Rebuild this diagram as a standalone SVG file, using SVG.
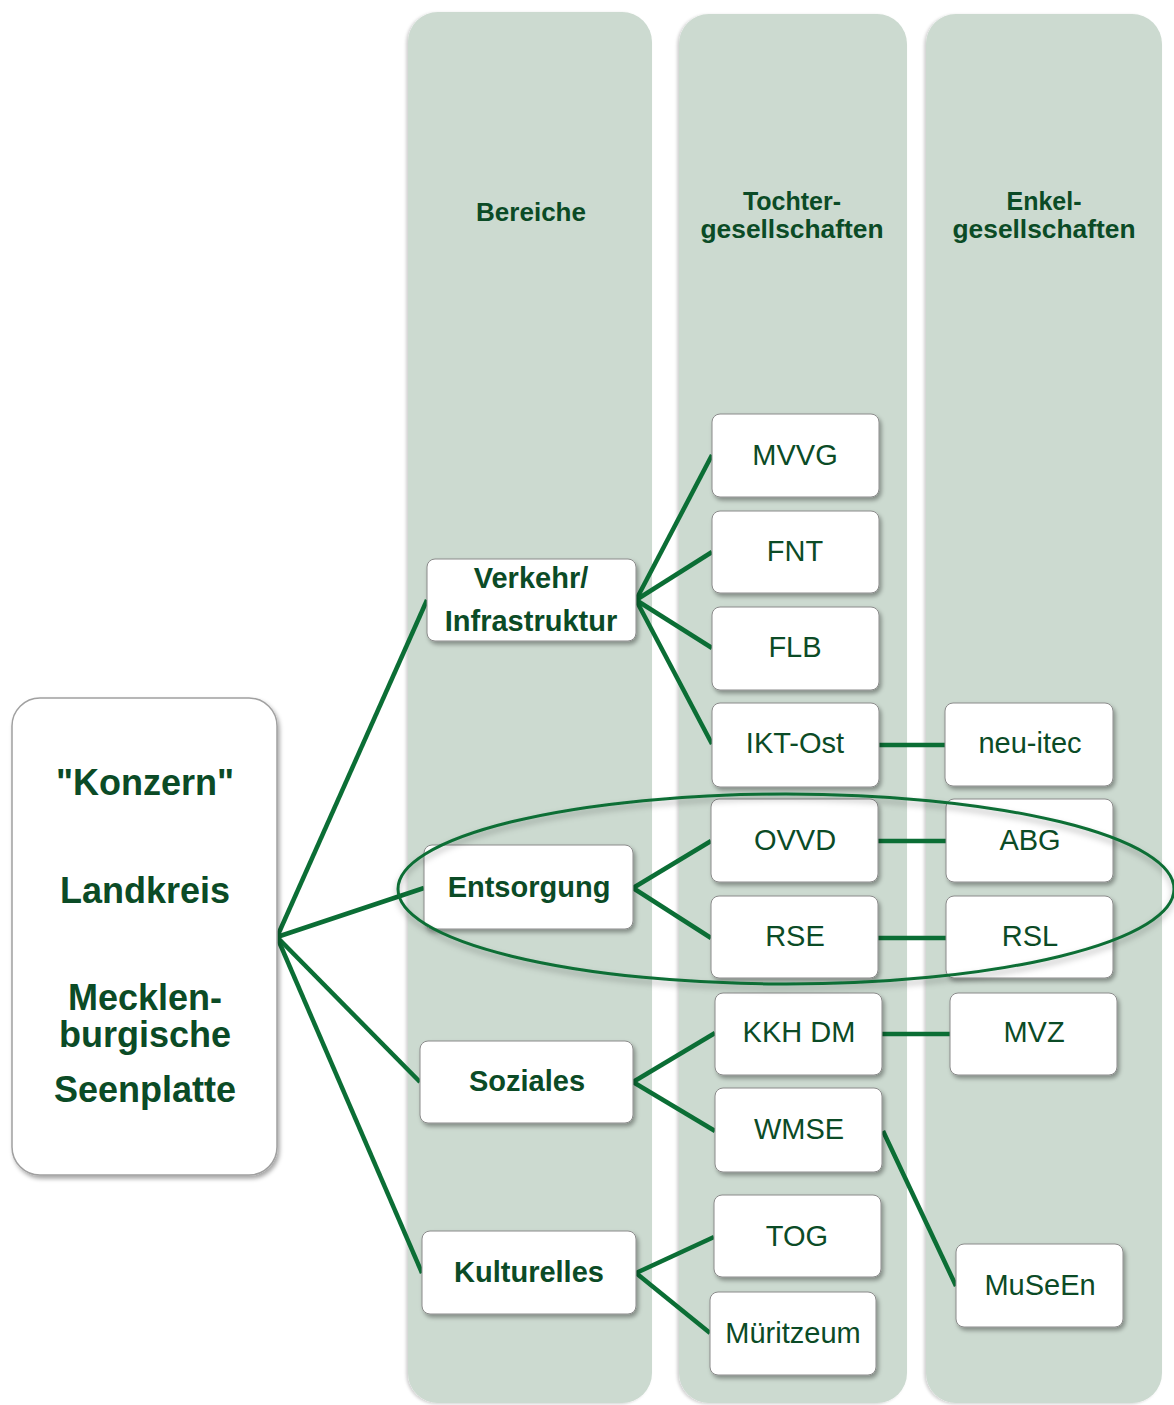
<svg xmlns="http://www.w3.org/2000/svg" width="1174" height="1405" viewBox="0 0 1174 1405">
<defs>
<filter id="sh" x="-10%" y="-10%" width="130%" height="140%">
<feDropShadow dx="2" dy="3" stdDeviation="2" flood-color="#000" flood-opacity="0.35"/>
</filter>
<filter id="csh" x="-5%" y="-2%" width="110%" height="104%">
<feDropShadow dx="-2" dy="1" stdDeviation="1.5" flood-color="#000" flood-opacity="0.18"/>
</filter>
<filter id="esh" x="-5%" y="-10%" width="110%" height="130%">
<feDropShadow dx="0" dy="4" stdDeviation="3" flood-color="#000" flood-opacity="0.3"/>
</filter>
</defs>
<style>
.col{fill:#ccdad0;filter:url(#csh)}
.box{fill:#fff;stroke:#8a8a8a;stroke-width:1;filter:url(#sh)}
.big{fill:#fff;stroke:#a0a0a0;stroke-width:1.5;filter:url(#sh)}
.hd{font-family:"Liberation Sans",Arial,sans-serif;font-weight:bold;font-size:25px;fill:#0b4b26;text-anchor:middle}
.bt{font-family:"Liberation Sans",Arial,sans-serif;font-weight:bold;font-size:36px;fill:#0b4b26;text-anchor:middle}
.lb{font-family:"Liberation Sans",Arial,sans-serif;font-weight:bold;font-size:29px;fill:#0b4b26;text-anchor:middle}
.lr{font-family:"Liberation Sans",Arial,sans-serif;font-size:29px;fill:#0b4b26;text-anchor:middle}
.cn line{stroke:#0b6e35;stroke-width:4.5;stroke-linecap:butt}
.ell{fill:none;stroke:#0b6e35;stroke-width:3;filter:url(#esh)}
</style>
<rect width="1174" height="1405" fill="#fff"/>
<g id="columns">
<rect class="col" x="408" y="12" width="244" height="1391" rx="30"/>
<rect class="col" x="679" y="14" width="228" height="1389" rx="30"/>
<rect class="col" x="926" y="14" width="236" height="1389" rx="30"/>
<text class="hd" x="531" y="221" textLength="110" lengthAdjust="spacingAndGlyphs">Bereiche</text>
<text class="hd" x="792" y="210">Tochter-</text>
<text class="hd" x="792" y="238" textLength="183" lengthAdjust="spacingAndGlyphs">gesellschaften</text>
<text class="hd" x="1044" y="210">Enkel-</text>
<text class="hd" x="1044" y="238" textLength="183" lengthAdjust="spacingAndGlyphs">gesellschaften</text>
</g>
<g id="connectors" class="cn">
<line x1="277" y1="937" x2="427" y2="600"/>
<line x1="277" y1="937" x2="424" y2="888"/>
<line x1="277" y1="937" x2="420" y2="1082"/>
<line x1="277" y1="937" x2="422" y2="1273"/>
<line x1="636" y1="600" x2="712" y2="455"/>
<line x1="636" y1="600" x2="712" y2="552"/>
<line x1="636" y1="600" x2="712" y2="648"/>
<line x1="636" y1="600" x2="712" y2="744"/>
<line x1="633" y1="888" x2="711" y2="841"/>
<line x1="633" y1="888" x2="711" y2="938"/>
<line x1="633" y1="1082" x2="715" y2="1033"/>
<line x1="633" y1="1082" x2="715" y2="1131"/>
<line x1="636" y1="1273" x2="714" y2="1237"/>
<line x1="636" y1="1273" x2="710" y2="1333"/>
<line x1="879" y1="745" x2="945" y2="745"/>
<line x1="878" y1="841" x2="946" y2="841"/>
<line x1="878" y1="938" x2="946" y2="938"/>
<line x1="882" y1="1034" x2="950" y2="1034"/>
<line x1="883" y1="1131" x2="956" y2="1286"/>
</g>
<g id="konzern">
<rect class="big" x="12" y="698" width="265" height="477" rx="28"/>
<text class="bt" x="145" y="795">"Konzern"</text>
<text class="bt" x="145" y="903">Landkreis</text>
<text class="bt" x="145" y="1010">Mecklen-</text>
<text class="bt" x="145" y="1047">burgische</text>
<text class="bt" x="145" y="1102">Seenplatte</text>
</g>
<g id="verkehr"><rect class="box" x="427" y="559" width="209" height="82" rx="8"/><text class="lb" x="531" y="588">Verkehr/</text><text class="lb" x="531" y="631">Infrastruktur</text></g>
<g id="entsorgung"><rect class="box" x="424" y="845" width="209" height="84" rx="8"/><text class="lb" x="529" y="897">Entsorgung</text></g>
<g id="soziales"><rect class="box" x="420" y="1041" width="213" height="82" rx="8"/><text class="lb" x="527" y="1091">Soziales</text></g>
<g id="kulturelles"><rect class="box" x="422" y="1231" width="214" height="83" rx="8"/><text class="lb" x="529" y="1282">Kulturelles</text></g>
<g id="mvvg"><rect class="box" x="712" y="414" width="167" height="83" rx="8"/><text class="lr" x="795" y="465">MVVG</text></g>
<g id="fnt"><rect class="box" x="712" y="511" width="167" height="82" rx="8"/><text class="lr" x="795" y="561">FNT</text></g>
<g id="flb"><rect class="box" x="712" y="607" width="167" height="83" rx="8"/><text class="lr" x="795" y="657">FLB</text></g>
<g id="ikt-ost"><rect class="box" x="712" y="703" width="167" height="84" rx="8"/><text class="lr" x="795" y="753">IKT-Ost</text></g>
<g id="ovvd"><rect class="box" x="711" y="799" width="167" height="83" rx="8"/><text class="lr" x="795" y="850">OVVD</text></g>
<g id="rse"><rect class="box" x="711" y="896" width="167" height="82" rx="8"/><text class="lr" x="795" y="946">RSE</text></g>
<g id="kkh-dm"><rect class="box" x="715" y="993" width="167" height="82" rx="8"/><text class="lr" x="799" y="1042">KKH DM</text></g>
<g id="wmse"><rect class="box" x="715" y="1088" width="167" height="84" rx="8"/><text class="lr" x="799" y="1139">WMSE</text></g>
<g id="tog"><rect class="box" x="714" y="1195" width="167" height="82" rx="8"/><text class="lr" x="797" y="1246">TOG</text></g>
<g id="mueritzeum"><rect class="box" x="710" y="1292" width="166" height="83" rx="8"/><text class="lr" x="793" y="1343">Müritzeum</text></g>
<g id="neu-itec"><rect class="box" x="945" y="703" width="168" height="83" rx="8"/><text class="lr" x="1030" y="753">neu-itec</text></g>
<g id="abg"><rect class="box" x="946" y="799" width="167" height="83" rx="8"/><text class="lr" x="1030" y="850">ABG</text></g>
<g id="rsl"><rect class="box" x="946" y="896" width="167" height="82" rx="8"/><text class="lr" x="1030" y="946">RSL</text></g>
<g id="mvz"><rect class="box" x="950" y="993" width="167" height="82" rx="8"/><text class="lr" x="1034" y="1042">MVZ</text></g>
<g id="museen"><rect class="box" x="956" y="1244" width="167" height="83" rx="8"/><text class="lr" x="1040" y="1295">MuSeEn</text></g>
<g id="highlight">
<ellipse class="ell" cx="786" cy="889" rx="388" ry="95"/>
</g>
</svg>
